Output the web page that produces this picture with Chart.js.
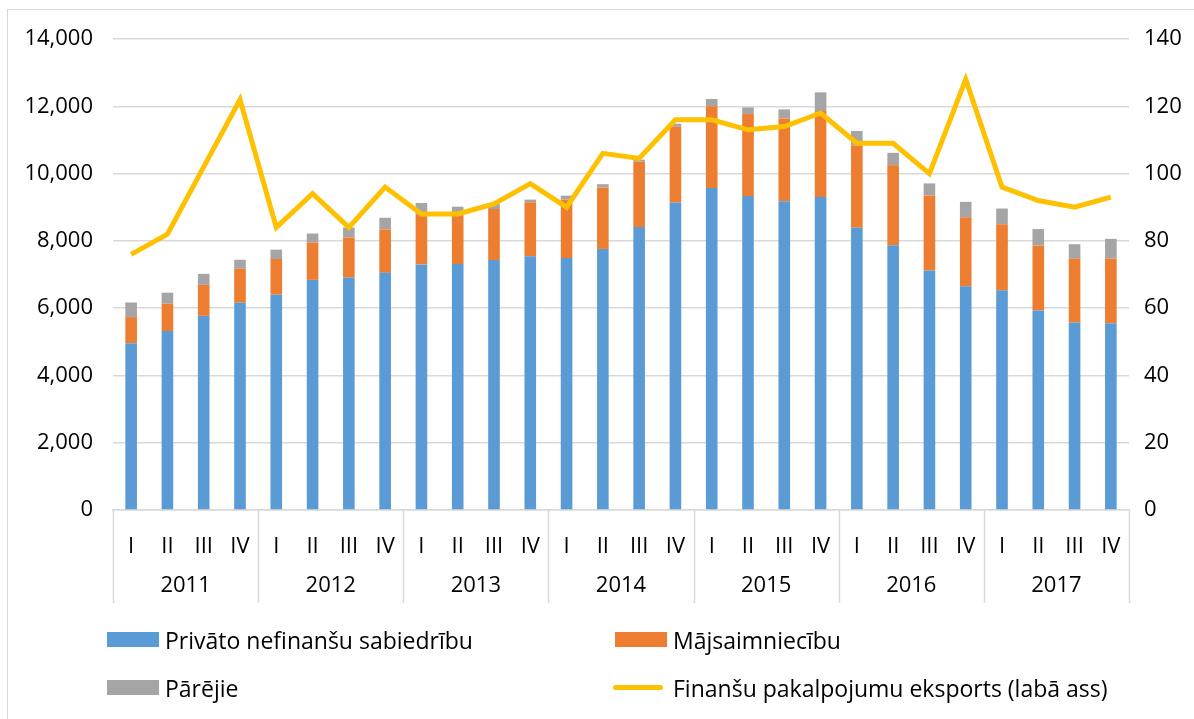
<!DOCTYPE html>
<html>
<head>
<meta charset="utf-8">
<title>Kredīti un finanšu pakalpojumu eksports</title>
<script src="https://cdn.jsdelivr.net/npm/chart.js"></script>
<style>
    body { margin: 0; background: #fff; overflow: hidden; font-family: 'Open Sans', sans-serif; }
    #wrap { position: relative; width: 1194px; height: 719px; }
    #frame { position: absolute; left: 7px; top: 9px; width: 1300px; height: 800px; border: 1.5px solid #d9d9d9; }
    canvas { position: absolute; left: 0; top: 0; }
    .leg { position: absolute; font-size: 23px; line-height: 26px; color: #000; white-space: nowrap; }
    .leg .box { position: absolute; left: 0; top: 5px; width: 52px; height: 15px; }
    .leg .ln { position: absolute; left: -2px; top: 10px; width: 50px; height: 5px; border-radius: 3px; }
    .leg .t { position: absolute; left: 58px; top: 0; }
</style>
</head>
<body>
<div id="wrap">
    <div id="frame"></div>
    <canvas id="chart" width="1194" height="719"></canvas>
    <div id="legend"></div>
</div>
<script>
    // data
    const years = ['2011', '2012', '2013', '2014', '2015', '2016', '2017'];
    const quarters = ['I', 'II', 'III', 'IV'];

    // Privāto nefinanšu sabiedrību
    const nonFinancial = [4960, 5320, 5770, 6160, 6400, 6840, 6910, 7050, 7300, 7310, 7430, 7540, 7490, 7760,
        8410, 9140, 9570, 9330, 9180, 9300, 8390, 7870, 7120, 6650, 6530, 5930, 5570, 5550];
    // Mājsaimniecību
    const households = [773, 812, 922, 1011, 1062, 1111, 1190, 1289, 1469, 1428, 1517, 1607, 1735, 1824,
        1944, 2251, 2429, 2439, 2459, 2559, 2450, 2380, 2231, 2053, 1963, 1934, 1904, 1924];
    // Pārējie
    const others = [435, 327, 328, 268, 277, 267, 298, 348, 357, 277, 154, 79, 119, 100,
        60, 90, 219, 199, 268, 555, 427, 367, 357, 456, 467, 486, 427, 585];
    // Finanšu pakalpojumu eksports (labā ass)
    const exports = [76, 82, 102, 122, 84, 94, 84, 96, 88, 88, 91, 97, 90, 106,
        104.5, 116, 116, 113, 114, 118, 109, 109, 100, 128, 96, 92, 90, 93];

    const labels = years.flatMap(() => quarters);

    Chart.defaults.font.family = "'Open Sans', sans-serif";
    Chart.defaults.font.size = 22;
    Chart.defaults.color = '#000';

    const gridColor = '#d9d9d9';

    // second label row (years) and the separators between years
    const yearRow = {
        id: 'yearRow',
        afterDraw(chart) {
            const x = chart.scales.x;
            const ctx = chart.ctx;
            const edges = [];
            for (let i = 0; i <= years.length; i++) {
                if (i === 0) edges.push(x.left);
                else if (i === years.length) edges.push(x.right);
                else edges.push((x.getPixelForValue(i * 4 - 1) + x.getPixelForValue(i * 4)) / 2);
            }
            ctx.save();
            ctx.strokeStyle = gridColor;
            ctx.lineWidth = 1.5;
            edges.forEach(e => {
                const px = Math.round(e) + 0.5;
                ctx.beginPath();
                ctx.moveTo(px, x.top);
                ctx.lineTo(px, x.top + 93);
                ctx.stroke();
            });
            ctx.fillStyle = '#000';
            ctx.font = "22px 'Open Sans', sans-serif";
            ctx.textAlign = 'center';
            ctx.textBaseline = 'middle';
            years.forEach((y, i) => {
                ctx.fillText(y, (edges[i] + edges[i + 1]) / 2, x.top + 76);
            });
            ctx.restore();
        }
    };

    const chart = new Chart(document.getElementById('chart'), {
        type: 'bar',
        data: {
            labels: labels,
            datasets: [
                {
                    type: 'line',
                    label: 'Finanšu pakalpojumu eksports (labā ass)',
                    data: exports,
                    yAxisID: 'y1',
                    borderColor: '#FFC000',
                    backgroundColor: '#FFC000',
                    borderWidth: 5,
                    pointRadius: 0,
                    tension: 0,
                    fill: false,
                    order: 0
                },
                { label: 'Privāto nefinanšu sabiedrību', data: nonFinancial, backgroundColor: '#5B9BD5', order: 1 },
                { label: 'Mājsaimniecību', data: households, backgroundColor: '#ED7D31', order: 1 },
                { label: 'Pārējie', data: others, backgroundColor: '#A5A5A5', order: 1 }
            ]
        },
        options: {
            responsive: false,
            animation: false,
            categoryPercentage: 1,
            barPercentage: 0.32,
            layout: { padding: { left: 13, right: 5, top: 39, bottom: 120 } },
            plugins: { legend: { display: false }, tooltip: { enabled: false } },
            scales: {
                x: {
                    stacked: true,
                    offset: true,
                    grid: { display: false, drawTicks: false },
                    border: { display: true, color: gridColor, width: 1.5 },
                    ticks: { autoSkip: false, maxRotation: 0, padding: 24 },
                    afterFit: s => { s.height = 89; }
                },
                y: {
                    stacked: true,
                    min: 0,
                    max: 14000,
                    grid: { color: gridColor, lineWidth: 1.5, drawTicks: false },
                    border: { display: false },
                    ticks: { stepSize: 2000, padding: 20, callback: v => v.toLocaleString('en-US') },
                    afterFit: s => { s.width = 100; }
                },
                y1: {
                    position: 'right',
                    min: 0,
                    max: 140,
                    grid: { drawOnChartArea: false, drawTicks: false },
                    border: { display: false },
                    ticks: { stepSize: 20, padding: 15 },
                    afterFit: s => { s.width = 60; }
                }
            }
        },
        plugins: [yearRow]
    });

    // two-column legend below the chart
    const legendSpots = [
        { ds: 1, left: 107, top: 627 },
        { ds: 2, left: 615, top: 627 },
        { ds: 3, left: 107, top: 675 },
        { ds: 0, left: 615, top: 675 }
    ];
    const legendDiv = document.getElementById('legend');
    legendSpots.forEach(s => {
        const ds = chart.data.datasets[s.ds];
        const item = document.createElement('div');
        item.className = 'leg';
        item.style.left = s.left + 'px';
        item.style.top = s.top + 'px';
        const mark = document.createElement('div');
        mark.className = ds.type === 'line' ? 'ln' : 'box';
        mark.style.background = ds.type === 'line' ? ds.borderColor : ds.backgroundColor;
        const txt = document.createElement('span');
        txt.className = 't';
        txt.textContent = ds.label;
        item.appendChild(mark);
        item.appendChild(txt);
        legendDiv.appendChild(item);
    });
</script>
</body>
</html>
